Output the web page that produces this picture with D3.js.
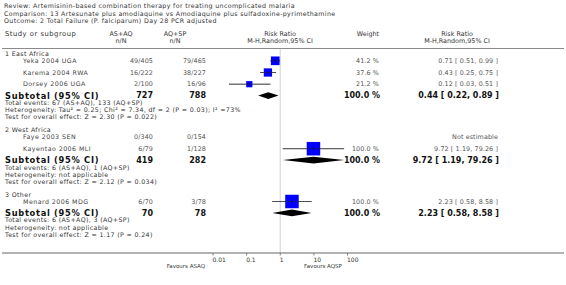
<!DOCTYPE html>
<html>
<head>
<meta charset="utf-8">
<script src="https://cdn.jsdelivr.net/npm/d3@7"></script>
<style>
  body { margin: 0; background: #fff; }
  svg { display: block; font-family: "DejaVu Sans", Verdana, sans-serif; }
  .small { font-size: 6.3px; letter-spacing: 0.35px; fill: #333; }
  .name { font-size: 6.3px; letter-spacing: 0.45px; fill: #444; }
  .head { font-size: 6.4px; fill: #333; }
  .num { font-size: 6.4px; letter-spacing: 0.1px; fill: #555; }
  .tick { font-size: 6px; fill: #333; }
  .fav { font-size: 5.5px; fill: #333; }
  .bold { font-size: 8px; font-weight: bold; fill: #111; }
  .boldlabel { font-size: 8.3px; letter-spacing: 0.7px; font-weight: bold; fill: #111; }
</style>
</head>
<body>
<svg id="forest" width="566" height="285" viewBox="0 0 566 285"></svg>
<script>
// ---- data ----
const titleLines = [
    "Review:  Artemisinin-based combination therapy for treating uncomplicated malaria",
    "Comparison:  13 Artesunate plus amodiaquine vs Amodiaquine plus sulfadoxine-pyrimethamine",
    "Outcome:  2 Total Failure (P. falciparum) Day 28 PCR adjusted"
];

const groupNames = ["1 East Africa", "2 West Africa", "3 Other"];

const studyNames = ["Yeka 2004 UGA", "Karema 2004 RWA", "Dorsey 2006 UGA",
                    "Faye 2003 SEN", "Kayentao 2006 MLI", "Menard 2006 MDG"];
const studyGroup = [0, 0, 0, 1, 1, 2];
const eventsASAQ = [49, 16, 2, 0, 6, 6];
const totalASAQ  = [405, 222, 100, 340, 79, 70];
const eventsAQSP = [79, 38, 16, 0, 1, 3];
const totalAQSP  = [465, 227, 96, 154, 128, 78];
const studyRR    = [0.71, 0.43, 0.12, null, 9.72, 2.23];
const studyLow   = [0.51, 0.25, 0.03, null, 1.19, 0.58];
const studyHigh  = [0.99, 0.75, 0.51, null, 79.26, 8.58];
const studyWeight = [41.2, 37.6, 21.2, null, 100.0, 100.0];

const subTotalASAQ = [727, 419, 70];
const subTotalAQSP = [788, 282, 78];
const subRR   = [0.44, 9.72, 2.23];
const subLow  = [0.22, 1.19, 0.58];
const subHigh = [0.89, 79.26, 8.58];
const subNotes = [
    ["Total events: 67 (AS+AQ), 133 (AQ+SP)",
     "Heterogeneity: Tau\u00b2 = 0.25; Chi\u00b2 = 7.34, df = 2 (P = 0.03); I\u00b2 =73%",
     "Test for overall effect: Z = 2.30 (P = 0.022)"],
    ["Total events: 6 (AS+AQ), 1 (AQ+SP)",
     "Heterogeneity: not applicable",
     "Test for overall effect: Z = 2.12 (P = 0.034)"],
    ["Total events: 6 (AS+AQ), 3 (AQ+SP)",
     "Heterogeneity: not applicable",
     "Test for overall effect: Z = 1.17 (P = 0.24)"]
];

const axisTicks = [0.01, 0.1, 1, 10, 100];
const axisTickLabels = ["0.01", "0.1", "1", "10", "100"];
const favoursLeft = "Favours ASAQ";
const favoursRight = "Favours AQSP";

// ---- layout ----
const svg = d3.select("#forest");
const W = 566;
const col = { study: 23, group: 5, asaq: 153, aqsp: 206, weight: 379, rr: 498 };

const x = d3.scaleLog().domain([0.01, 100]).range([213, 347.5]);
const fmt2 = d3.format(".2f");
const ciText = (r, l, h) => `${fmt2(r)} [ ${fmt2(l)}, ${fmt2(h)} ]`;

// walk down the rows to get their vertical centres
const rows = [];
let y = 54;
groupNames.forEach((g, gi) => {
    rows.push({ type: "group", gi, y });
    y += 6.8;
    studyNames.forEach((s, i) => {
        if (studyGroup[i] !== gi) return;
        rows.push({ type: "study", i, y });
        y += 11.7;
    });
    y -= 0.3;
    rows.push({ type: "subtotal", gi, y });
    y += 7.2;
    subNotes[gi].forEach(n => { rows.push({ type: "note", text: n, y }); y += 7.2; });
    y += 5.8;
});

// ---- header ----
svg.selectAll("text.title")
    .data(titleLines)
    .enter().append("text")
    .attr("class", "small title")
    .attr("x", 4)
    .attr("y", (d, i) => 8.3 + i * 7.3)
    .text(d => d);

const header = [
    { t: "Study or subgroup", x: 5, y: 35.5, a: "start", s: 6.8 },
    { t: "AS+AQ", x: 121, y: 35.5, a: "middle" },
    { t: "n/N", x: 121, y: 42.5, a: "middle" },
    { t: "AQ+SP", x: 175, y: 35.5, a: "middle" },
    { t: "n/N", x: 175, y: 42.5, a: "middle" },
    { t: "Risk Ratio", x: 280, y: 35.5, a: "middle" },
    { t: "M-H,Random,95% CI", x: 280, y: 42.5, a: "middle" },
    { t: "Weight", x: 368, y: 35.5, a: "middle" },
    { t: "Risk Ratio", x: 457, y: 35.5, a: "middle" },
    { t: "M-H,Random,95% CI", x: 457, y: 42.5, a: "middle" }
];
svg.selectAll("text.headtxt")
    .data(header)
    .enter().append("text")
    .attr("class", "head headtxt")
    .attr("x", d => d.x).attr("y", d => d.y)
    .attr("text-anchor", d => d.a)
    .style("font-size", d => d.s ? d.s + "px" : null)
    .style("letter-spacing", d => d.s ? "0.5px" : null)
    .text(d => d.t);

svg.append("line")
    .attr("x1", 2).attr("x2", W - 2)
    .attr("y1", 48.5).attr("y2", 48.5)
    .attr("stroke", "#8a8a8a").attr("stroke-width", 1);

// null line
svg.append("line")
    .attr("x1", x(1)).attr("x2", x(1))
    .attr("y1", 49).attr("y2", 253)
    .attr("stroke", "#d8d8d8").attr("stroke-width", 1.2);

// ---- rows ----
const g = svg.append("g");

rows.forEach(r => {
    if (r.type === "group") {
        g.append("text").attr("class", "small")
            .attr("x", col.group).attr("y", r.y).attr("dy", "0.35em")
            .text(groupNames[r.gi]);
    } else if (r.type === "note") {
        g.append("text").attr("class", "small")
            .attr("x", col.group).attr("y", r.y).attr("dy", "0.35em")
            .text(r.text);
    } else if (r.type === "study") {
        const i = r.i;
        const cells = [
            { t: studyNames[i], x: col.study, a: "start", c: "name" },
            { t: `${eventsASAQ[i]}/${totalASAQ[i]}`, x: col.asaq, a: "end", c: "num" },
            { t: `${eventsAQSP[i]}/${totalAQSP[i]}`, x: col.aqsp, a: "end", c: "num" },
            { t: studyWeight[i] == null ? "" : `${studyWeight[i].toFixed(1)} %`, x: col.weight, a: "end", c: "num" },
            { t: studyRR[i] == null ? "Not estimable" : ciText(studyRR[i], studyLow[i], studyHigh[i]), x: col.rr, a: "end", c: "num" }
        ];
        cells.forEach(c => g.append("text").attr("class", c.c)
            .attr("x", c.x).attr("y", r.y).attr("dy", "0.35em")
            .attr("text-anchor", c.a).text(c.t));

        if (studyRR[i] != null) {
            // confidence interval
            g.append("line")
                .attr("x1", x(studyLow[i])).attr("x2", x(studyHigh[i]))
                .attr("y1", r.y).attr("y2", r.y)
                .attr("stroke", "#555").attr("stroke-width", 0.8);
            // weighted box
            const s = 1.35 * Math.sqrt(studyWeight[i]);
            g.append("rect")
                .attr("x", x(studyRR[i]) - s / 2).attr("y", r.y - s / 2)
                .attr("width", s).attr("height", s)
                .attr("fill", "#0000ff");
            g.append("line")
                .attr("x1", x(studyRR[i])).attr("x2", x(studyRR[i]))
                .attr("y1", r.y - 1.5).attr("y2", r.y + 1.5)
                .attr("stroke", "#000").attr("stroke-width", 0.6);
            g.append("line")
                .attr("x1", x(studyLow[i])).attr("x2", x(studyHigh[i]))
                .attr("y1", r.y).attr("y2", r.y)
                .attr("stroke", "#222").attr("stroke-width", 0.5);
        }
    } else if (r.type === "subtotal") {
        const gi = r.gi;
        const cells = [
            { t: "Subtotal (95% CI)", x: col.group, a: "start", c: "boldlabel" },
            { t: subTotalASAQ[gi], x: col.asaq, a: "end", c: "bold" },
            { t: subTotalAQSP[gi], x: col.aqsp, a: "end", c: "bold" },
            { t: "100.0 %", x: col.weight + 1, a: "end", c: "bold" },
            { t: ciText(subRR[gi], subLow[gi], subHigh[gi]), x: col.rr + 1, a: "end", c: "bold" }
        ];
        cells.forEach(c => g.append("text").attr("class", c.c)
            .attr("x", c.x).attr("y", r.y).attr("dy", "0.35em")
            .attr("text-anchor", c.a).text(c.t));

        const h = 3.3;
        const pts = [[x(subLow[gi]), r.y], [x(subRR[gi]), r.y - h],
                     [x(subHigh[gi]), r.y], [x(subRR[gi]), r.y + h]];
        g.append("path")
            .attr("d", d3.line()(pts) + "Z")
            .attr("fill", "#000");
    }
});

// ---- axis ----
svg.append("line")
    .attr("x1", 2).attr("x2", W - 2)
    .attr("y1", 253).attr("y2", 253)
    .attr("stroke", "#666").attr("stroke-width", 1);

const axis = svg.append("g").attr("transform", "translate(0,253)");
axis.selectAll("line.tickmark")
    .data(axisTicks)
    .enter().append("line")
    .attr("class", "tickmark")
    .attr("x1", d => x(d)).attr("x2", d => x(d))
    .attr("y1", 0).attr("y2", 2.5)
    .attr("stroke", "#666").attr("stroke-width", 0.8);
axis.selectAll("text.tick")
    .data(axisTicks)
    .enter().append("text")
    .attr("class", "tick")
    .attr("x", d => x(d) - 0.5)
    .attr("y", 8.5)
    .text((d, i) => axisTickLabels[i]);

svg.append("text").attr("class", "fav")
    .attr("x", 205).attr("y", 267.5).attr("text-anchor", "end")
    .text(favoursLeft);
svg.append("text").attr("class", "fav")
    .attr("x", 323).attr("y", 267.5).attr("text-anchor", "middle")
    .text(favoursRight);
</script>
</body>
</html>
